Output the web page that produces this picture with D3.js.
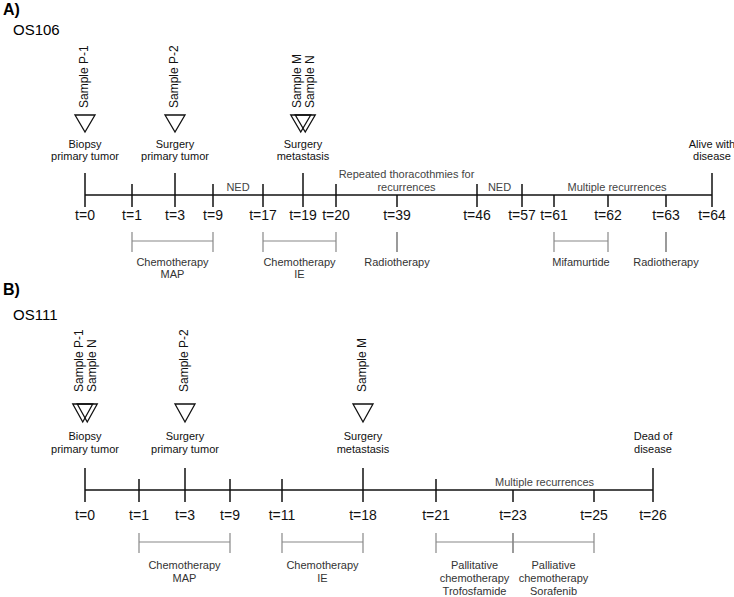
<!DOCTYPE html>
<html>
<head>
<meta charset="utf-8">
<script src="https://cdn.jsdelivr.net/npm/d3@7"></script>
<style>
  html, body { margin: 0; padding: 0; background: #fff; }
  svg { display: block; font-family: "Liberation Sans", Arial, sans-serif; }
</style>
</head>
<body>
<svg id="chart" width="734" height="597"></svg>
<script>
// ---------------- DATA ----------------
// Panel A (OS106)
const timesA = [0, 1, 3, 9, 17, 19, 20, 39, 46, 57, 61, 62, 63, 64];
const tickTypeA = ["long", "short", "long", "short", "short", "long", "short", "below", "short", "short", "below", "below", "below", "long"];
const eventTimesA = [0, 3, 19, 64];
const eventSamplesA = [["Sample P-1"], ["Sample P-2"], ["Sample M", "Sample N"], []];
const eventTextA = [["Biopsy", "primary tumor"], ["Surgery", "primary tumor"], ["Surgery", "metastasis"], ["Alive with", "disease"]];
const phaseFromA = [9, 20, 46, 57];
const phaseToA = [17, 46, 57, 64];
const phaseTextA = [["NED"], ["Repeated thoracothmies for", "recurrences"], ["NED"], ["Multiple recurrences"]];
const treatFromA = [1, 17, 39, 61, 63];
const treatToA = [9, 20, 39, 62, 63];
const treatTextA = [["Chemotherapy", "MAP"], ["Chemotherapy", "IE"], ["Radiotherapy"], ["Mifamurtide"], ["Radiotherapy"]];

// Panel B (OS111)
const timesB = [0, 1, 3, 9, 11, 18, 21, 23, 25, 26];
const tickTypeB = ["long", "short", "long", "short", "short", "long", "short", "below", "below", "long"];
const eventTimesB = [0, 3, 18, 26];
const eventSamplesB = [["Sample P-1", "Sample N"], ["Sample P-2"], ["Sample M"], []];
const eventTextB = [["Biopsy", "primary tumor"], ["Surgery", "primary tumor"], ["Surgery", "metastasis"], ["Dead of", "disease"]];
const phaseFromB = [21];
const phaseToB = [26];
const phaseTextB = [["Multiple recurrences"]];
const treatFromB = [1, 11, 21, 23];
const treatToB = [9, 18, 23, 25];
const treatTextB = [["Chemotherapy", "MAP"], ["Chemotherapy", "IE"], ["Pallitative", "chemotherapy", "Trofosfamide"], ["Palliative", "chemotherapy", "Sorafenib"]];

// ---------------- LAYOUT (schematic, non-linear time axis) ----------------
const slotXA = [85, 132, 175, 213, 263, 303, 336, 397, 477, 522, 554, 608, 666, 712];
const slotXB = [85, 139, 185, 230, 282, 363, 436, 513, 594, 653];

const panels = [
  { letter: "A)", name: "OS106", letterY: 15, nameY: 35,
    times: timesA, tickType: tickTypeA, slots: slotXA,
    evT: eventTimesA, evS: eventSamplesA, evTxt: eventTextA,
    phF: phaseFromA, phT: phaseToA, phTxt: phaseTextA,
    trF: treatFromA, trT: treatToA, trTxt: treatTextA,
    axisY: 195, sampleBottom: 108, triTop: 115, triBottom: 132,
    evLabelY: 148, evLine: 12, tickLabelY: 220, bracketY: 241, treatLabelY: 266, treatLine: 11.5 },
  { letter: "B)", name: "OS111", letterY: 295, nameY: 320,
    times: timesB, tickType: tickTypeB, slots: slotXB,
    evT: eventTimesB, evS: eventSamplesB, evTxt: eventTextB,
    phF: phaseFromB, phT: phaseToB, phTxt: phaseTextB,
    trF: treatFromB, trT: treatToB, trTxt: treatTextB,
    axisY: 490, sampleBottom: 392, triTop: 404, triBottom: 422,
    evLabelY: 440, evLine: 12.5, tickLabelY: 520, bracketY: 542, treatLabelY: 569, treatLine: 12.8 }
];

const svg = d3.select("#chart");
svg.append("rect").attr("width", 734).attr("height", 597).attr("fill", "#fff");

panels.forEach(p => {
  const x = d3.scaleLinear().domain(p.times).range(p.slots);
  const g = svg.append("g");

  // Panel letter and patient id
  g.append("text").attr("x", 3).attr("y", p.letterY)
    .attr("font-size", 16).attr("font-weight", "bold").attr("fill", "#000").text(p.letter);
  g.append("text").attr("x", 13).attr("y", p.nameY)
    .attr("font-size", 15).attr("fill", "#000").text(p.name);

  // Main axis line
  g.append("line")
    .attr("x1", x(p.times[0])).attr("x2", x(p.times[p.times.length - 1]))
    .attr("y1", p.axisY).attr("y2", p.axisY)
    .attr("stroke", "#111").attr("stroke-width", 1.5);

  // Ticks
  const tickData = p.times.map((t, i) => ({ t, type: p.tickType[i] }));
  g.selectAll(".tick").data(tickData).join("line")
    .attr("x1", d => x(d.t)).attr("x2", d => x(d.t))
    .attr("y1", d => d.type === "long" ? p.axisY - 22 : d.type === "short" ? p.axisY - 11 : p.axisY)
    .attr("y2", p.axisY + 12)
    .attr("stroke", "#111").attr("stroke-width", 1.5);

  // Tick labels
  g.selectAll(".tl").data(tickData).join("text")
    .attr("x", d => x(d.t)).attr("y", p.tickLabelY)
    .attr("text-anchor", "middle").attr("font-size", 14).attr("fill", "#111")
    .text(d => "t=" + d.t);

  // Events: triangles, sample labels, event labels
  const evData = p.evT.map((t, i) => ({ t, samples: p.evS[i], text: p.evTxt[i] }));
  evData.forEach(ev => {
    const cx = x(ev.t);
    const n = ev.samples.length;
    ev.samples.forEach((s, j) => {
      const off = (j - (n - 1) / 2) * 4.5;
      g.append("path")
        .attr("d", `M${cx + off - 10},${p.triTop} L${cx + off + 10},${p.triTop} L${cx + off},${p.triBottom} Z`)
        .attr("fill", "none").attr("stroke", "#111").attr("stroke-width", 1.3).attr("stroke-linejoin", "miter");
      const loff = n > 1 ? (j - (n - 1) / 2) * 13 : -1;
      g.append("text")
        .attr("transform", `translate(${cx + loff},${p.sampleBottom}) rotate(-90)`)
        .attr("text-anchor", "start").attr("dominant-baseline", "central")
        .attr("font-size", 12).attr("fill", "#111").text(s);
    });
    ev.text.forEach((line, k) => {
      g.append("text").attr("x", cx).attr("y", p.evLabelY + k * p.evLine)
        .attr("text-anchor", "middle").attr("font-size", 11).attr("fill", "#111").text(line);
    });
  });

  // Phase labels above axis
  p.phF.forEach((f, i) => {
    const cx = (x(f) + x(p.phT[i])) / 2;
    const lines = p.phTxt[i];
    lines.forEach((line, k) => {
      g.append("text").attr("x", cx)
        .attr("y", p.axisY - 4 - (lines.length - 1 - k) * 13.5)
        .attr("text-anchor", "middle").attr("font-size", 11).attr("fill", "#444").text(line);
    });
  });

  // Treatment brackets below
  p.trF.forEach((f, i) => {
    const x1 = x(f), x2 = x(p.trT[i]);
    const col = "#888";
    if (x2 > x1) {
      g.append("line").attr("x1", x1).attr("x2", x2).attr("y1", p.bracketY).attr("y2", p.bracketY)
        .attr("stroke", col).attr("stroke-width", 1.2);
    }
    [x1, x2].forEach(xx => {
      g.append("line").attr("x1", xx).attr("x2", xx)
        .attr("y1", p.bracketY - 9).attr("y2", p.bracketY + 11)
        .attr("stroke", col).attr("stroke-width", 1.2);
    });
    p.trTxt[i].forEach((line, k) => {
      g.append("text").attr("x", (x1 + x2) / 2).attr("y", p.treatLabelY + k * p.treatLine)
        .attr("text-anchor", "middle").attr("font-size", 11).attr("fill", "#333").text(line);
    });
  });
});
</script>
</body>
</html>
